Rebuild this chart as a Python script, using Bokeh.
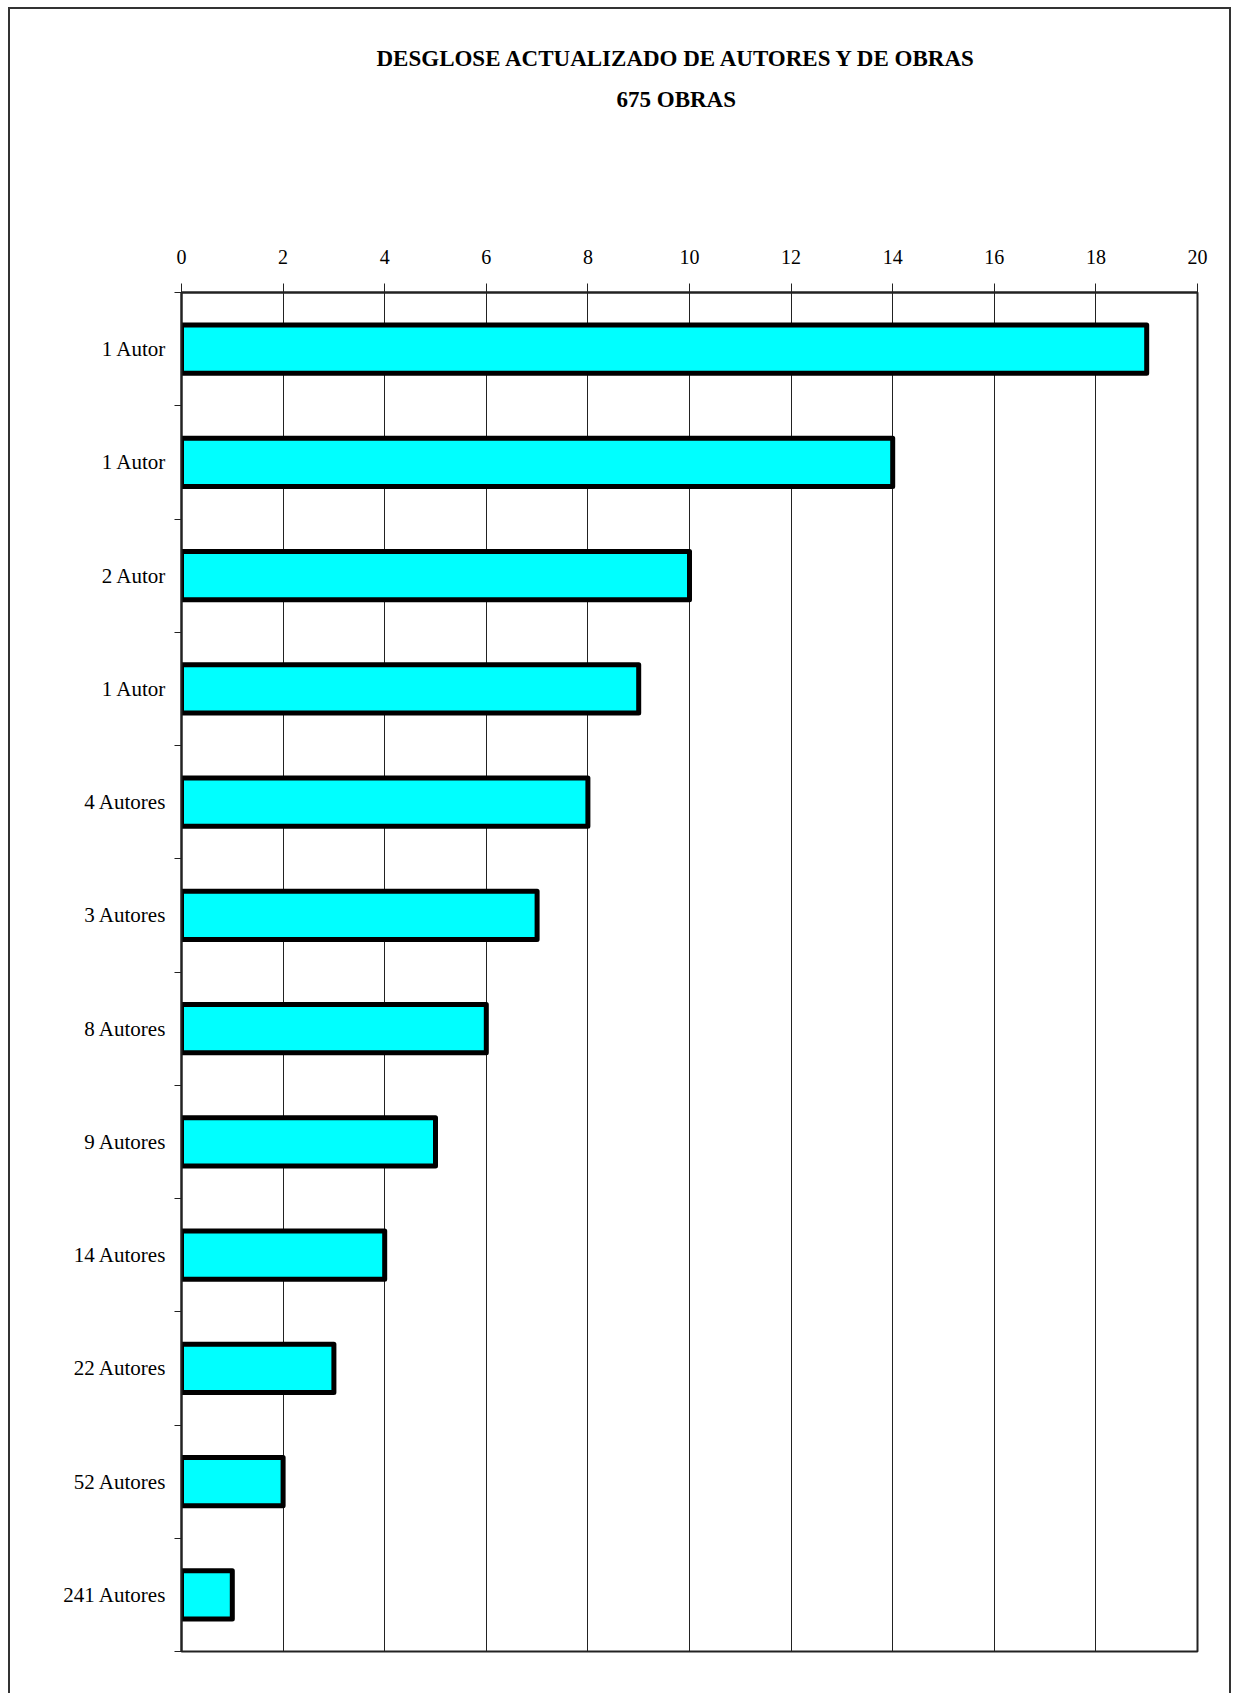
from bokeh.plotting import figure
from bokeh.models import Range1d, FixedTicker, Title
from bokeh.embed import file_html
from bokeh.resources import INLINE

# ---- data ----
categories = ["1 Autor", "1 Autor", "2 Autor", "1 Autor", "4 Autores", "3 Autores",
              "8 Autores", "9 Autores", "14 Autores", "22 Autores", "52 Autores", "241 Autores"]
obras = [19, 14, 10, 9, 8, 7, 6, 5, 4, 3, 2, 1]
x_ticks = [0, 2, 4, 6, 8, 10, 12, 14, 16, 18, 20]
title_line1 = "DESGLOSE ACTUALIZADO DE AUTORES Y DE OBRAS"
title_line2 = "675 OBRAS"

n = len(categories)
ys = [n - i - 0.5 for i in range(n)]

p = figure(width=1223, height=1686, output_backend="svg", toolbar_location=None,
           x_range=Range1d(0, 20), y_range=Range1d(0, n),
           x_axis_location="above", min_border_left=171, min_border_right=36,
           min_border_top=283, min_border_bottom=44)
p.title = None
p.styles = {"border-top": "2px solid #333", "border-left": "2px solid #333",
            "border-right": "2px solid #333", "margin-left": "8px", "margin-top": "7px"}

p.hbar(y=ys, left=0, right=obras, height=0.425, fill_color="#00FFFF",
       line_color="black", line_width=5, line_join="round")

# grid
p.ygrid.grid_line_color = None
p.xgrid.ticker = FixedTicker(ticks=x_ticks)
p.xgrid.grid_line_color = "#222222"
p.xgrid.grid_line_width = 1
p.outline_line_color = "#222222"
p.outline_line_width = 2

# x axis (top)
xa = p.xaxis[0]
xa.ticker = FixedTicker(ticks=x_ticks)
xa.major_tick_out = 9
xa.major_tick_in = 0
xa.minor_tick_out = 0
xa.minor_tick_in = 0
xa.axis_line_color = "#222222"
xa.axis_line_width = 2
xa.major_tick_line_color = "#222222"
xa.major_label_text_font = "Liberation Serif"
xa.major_label_text_font_size = "20px"
xa.major_label_text_color = "black"
xa.major_label_standoff = 20

# y axis (left)
ya = p.yaxis[0]
ya.ticker = FixedTicker(ticks=ys, minor_ticks=list(range(n + 1)))
ya.major_label_overrides = {y: c for y, c in zip(ys, categories)}
ya.major_tick_out = 0
ya.major_tick_in = 0
ya.minor_tick_out = 7
ya.minor_tick_in = 0
ya.minor_tick_line_color = "#222222"
ya.minor_tick_line_width = 1
ya.axis_line_color = "#222222"
ya.axis_line_width = 2
ya.major_label_text_font = "Liberation Serif"
ya.major_label_text_font_size = "21px"
ya.major_label_text_color = "black"
ya.major_label_standoff = 8

# spacer between the axis labels and the title block
p.add_layout(Title(text=" ", standoff=125, text_font_size="1px"), "above")
# two-line title (second line added first: it sits nearer the plot)
for txt, off in [(title_line2, 435), (title_line1, 195)]:
    p.add_layout(Title(text=txt, align="left", offset=off, standoff=14,
                       text_font="Liberation Serif", text_font_style="bold",
                       text_font_size="23px", text_color="black"), "above")

open("out.html", "w").write(file_html(p, INLINE))
